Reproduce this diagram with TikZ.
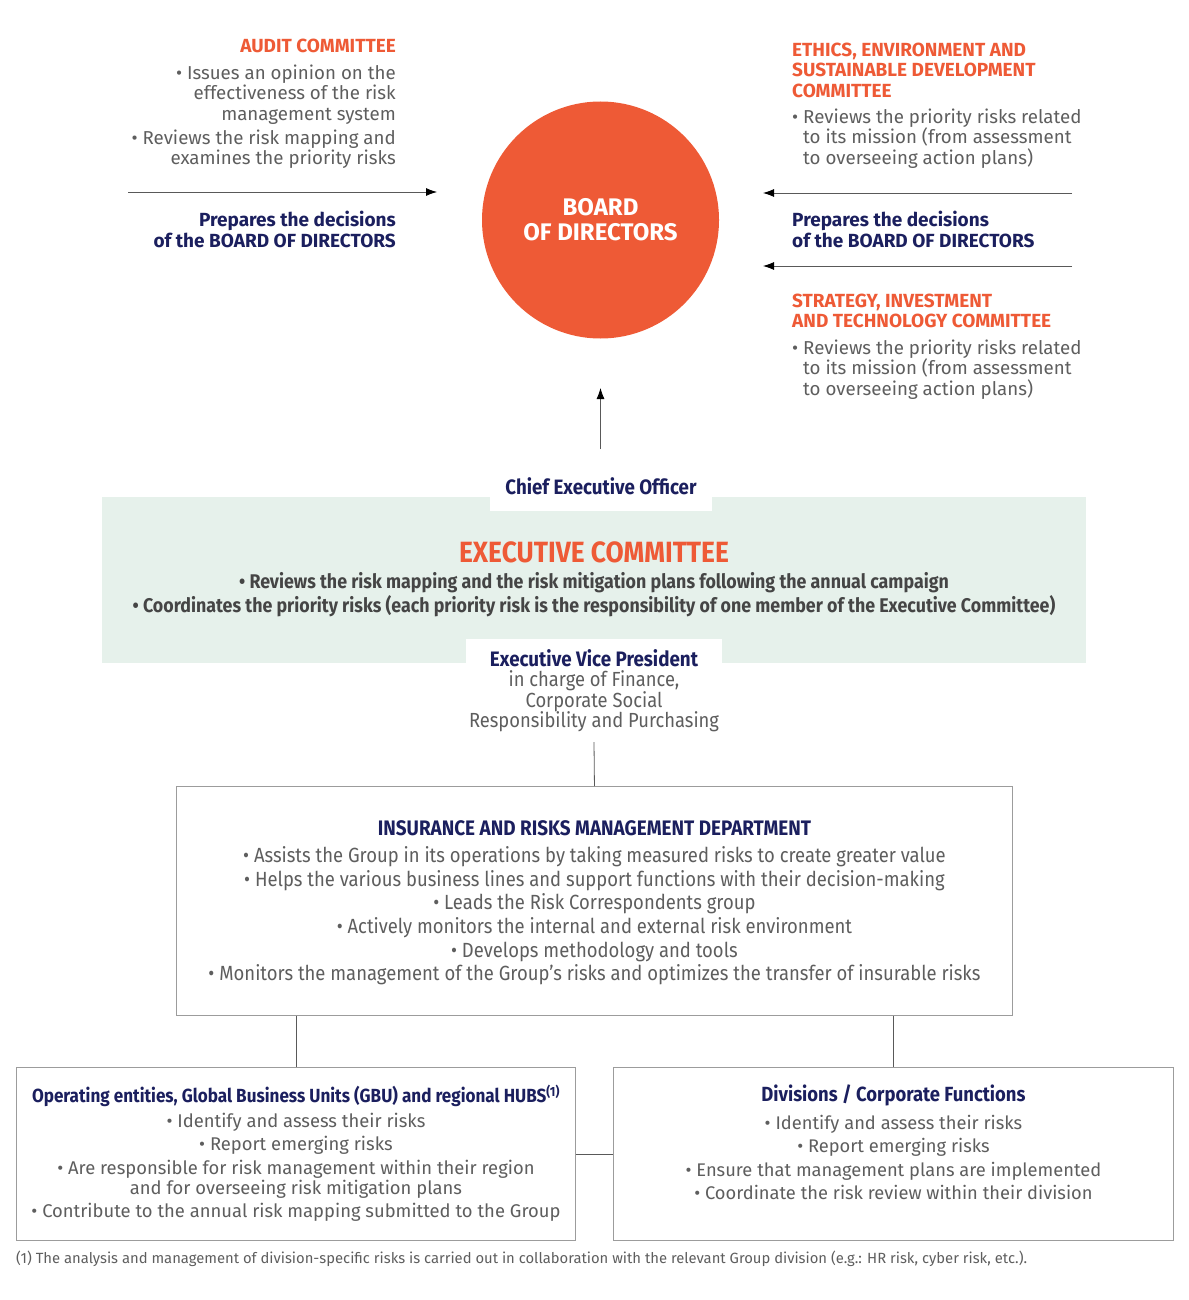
\documentclass[tikz,border=0pt]{standalone}
\usepackage{fontspec}
\setmainfont{Fira Sans}
\newfontfamily\condfont[FakeStretch=0.9]{Fira Sans}
\usetikzlibrary{arrows.meta,positioning}

\definecolor{boardorange}{HTML}{EE5A36}
\definecolor{navy}{HTML}{1B1F5E}
\definecolor{textgray}{HTML}{5E5E5E}
\definecolor{darkgray}{HTML}{454545}
\definecolor{execgreen}{HTML}{E6F1EB}
\definecolor{boxgray}{HTML}{9C9C9C}

\newcommand{\hangbul}{\hphantom{• }}

\tikzset{
  committee/.style={inner sep=0pt, text=boardorange, font=\fontsize{19}{20.5}\selectfont\bfseries},
  decision/.style={inner sep=0pt, text=navy, font=\fontsize{19}{21}\selectfont\bfseries},
  duties/.style={inner sep=0pt, text=textgray, font=\fontsize{18.7}{20.5}\selectfont},
  link/.style={draw=black!65, line width=0.8pt},
  arr/.style={link, -{Latex[length=11pt,width=8pt,black]}},
  frame/.style={draw=boxgray, line width=0.9pt, fill=white, inner sep=0pt}
}

\begin{document}
\begin{tikzpicture}[x=1pt,y=-1pt]
  \useasboundingbox (0,0) rectangle (1188,1300);
  % board of directors
  \node[circle, fill=boardorange, minimum size=237pt, inner sep=0pt, align=center, text=white,
        font=\fontsize{24}{25}\selectfont\bfseries] (board) at (600.5,220) {BOARD\\OF DIRECTORS};
  % audit committee (left)
  \node[committee, anchor=north east, align=right] (audit) at (396,39.3) {AUDIT COMMITTEE};
  \node[duties, anchor=north east, align=right] (auditjob) at (396,64.4)
    {• Issues an opinion on the\\effectiveness of the risk\\management system\\[3.5pt]• Reviews the risk mapping and\\examines the priority risks};
  \coordinate (auditfrom) at (128,192); \coordinate (auditto) at (437,192);
  \draw[arr] (auditfrom) -- (auditto);
  \node[decision, anchor=north east, align=right] (auditprep) at (396,211.2)
    {Prepares the decisions\\of the BOARD OF DIRECTORS};
  % ethics and strategy committees (right)
  \node[committee, anchor=north west, align=left] (ethics) at (792,42.4)
    {ETHICS, ENVIRONMENT AND\\SUSTAINABLE DEVELOPMENT\\COMMITTEE};
  \node[duties, anchor=north west, align=left] (ethicsjob) at (792,108.4)
    {• Reviews the priority risks related\\\hangbul to its mission (from assessment\\\hangbul to overseeing action plans)};
  \coordinate (ethicsfrom) at (1072,193); \coordinate (ethicsto) at (763,193);
  \coordinate (stratfrom) at (1072,266); \coordinate (stratto) at (763,266);
  \draw[arr] (ethicsfrom) -- (ethicsto);
  \draw[arr] (stratfrom) -- (stratto);
  \node[decision, anchor=north west, align=left] (rightprep) at (792,211.2)
    {Prepares the decisions\\of the BOARD OF DIRECTORS};
  \node[committee, anchor=north west, align=left] (strategy) at (792,293.4)
    {STRATEGY, INVESTMENT\\AND TECHNOLOGY COMMITTEE};
  \node[duties, anchor=north west, align=left] (strategyjob) at (792,339.4)
    {• Reviews the priority risks related\\\hangbul to its mission (from assessment\\\hangbul to overseeing action plans)};
  % executive committee
  \node[fill=execgreen, minimum width=984pt, minimum height=166pt, inner sep=0pt, anchor=north west] (exco) at (102,497) {};
  \node[fill=white, minimum width=222pt, minimum height=50pt, inner sep=0pt, text=navy,
        font=\condfont\fontsize{20.8}{22}\selectfont\bfseries] (ceo) at (601,486) {Chief Executive Officer};
  \coordinate (ceoup) at (600.5,449); \coordinate (boardin) at (600.5,388);
  \draw[arr] (ceoup) -- (boardin);
  \node[inner sep=0pt, text=boardorange, font=\condfont\fontsize{29.3}{31}\selectfont\bfseries] (excotitle) at (594,552) {EXECUTIVE COMMITTEE};
  \node[inner sep=0pt, anchor=north, align=center, text=darkgray, font=\condfont\fontsize{19.8}{24}\selectfont\bfseries]
    (excojob) at (594,572.2) {• Reviews the risk mapping and the risk mitigation plans following the annual campaign\\• Coordinates the priority risks (each priority risk is the responsibility of one member of the Executive Committee)};
  \node[fill=white, minimum width=256pt, inner xsep=0pt, inner ysep=10pt, anchor=north, align=center, text=textgray,
        font=\condfont\fontsize{20.4}{20.5}\selectfont] (evp) at (594,639)
    {\textcolor{navy}{\fontsize{20.9}{20.5}\selectfont\bfseries Executive Vice President}\\in charge of Finance,\\Corporate Social\\Responsibility and Purchasing};
  % insurance and risks management department
  \node[frame, minimum width=836pt, minimum height=229pt, anchor=north west] (irm) at (176,786) {};
  \draw[link] (evp.south) -- (irm.north);
  \node[inner sep=0pt, below=34.6pt of irm.north, align=center, text=textgray, font=\condfont\fontsize{20.5}{23.6}\selectfont] (irmjob)
    {\textcolor{navy}{\fontsize{21}{23.6}\selectfont\bfseries INSURANCE AND RISKS MANAGEMENT DEPARTMENT}\\[3.4pt]
     • Assists the Group in its operations by taking measured risks to create greater value\\
     • Helps the various business lines and support functions with their decision-making\\
     • Leads the Risk Correspondents group\\
     • Actively monitors the internal and external risk environment\\
     • Develops methodology and tools\\
     • Monitors the management of the Group’s risks and optimizes the transfer of insurable risks};
  % operating entities and divisions
  \node[frame, minimum width=559pt, minimum height=173pt, anchor=north west] (ops) at (16,1067) {};
  \node[frame, minimum width=560pt, minimum height=173pt, anchor=north west] (divs) at (613,1067) {};
  \draw[link] (irm.south -| ops.north) -- (ops.north);
  \draw[link] (irm.south -| divs.north) -- (divs.north);
  \draw[link] (ops.east) -- (divs.west);
  \node[inner sep=0pt, below=17.6pt of ops.north, align=center, text=textgray, font=\fontsize{18.4}{23.5}\selectfont] (opsjob)
    {\textcolor{navy}{\condfont\fontsize{19}{23.5}\selectfont\bfseries Operating entities, Global Business Units (GBU) and regional HUBS\textsuperscript{(1)}}\\[1pt]
     • Identify and assess their risks\\
     • Report emerging risks\\
     • Are responsible for risk management within their region\\[-3.5pt]
     and for overseeing risk mitigation plans\\
     • Contribute to the annual risk mapping submitted to the Group};
  \node[inner sep=0pt, below=17.6pt of divs.north, align=center, text=textgray, font=\fontsize{18.3}{23.5}\selectfont] (divsjob)
    {\textcolor{navy}{\condfont\fontsize{20.5}{23.5}\selectfont\bfseries Divisions / Corporate Functions}\\[4pt]
     • Identify and assess their risks\\
     • Report emerging risks\\
     • Ensure that management plans are implemented\\
     • Coordinate the risk review within their division};
  % footnote
  \node[inner sep=0pt, anchor=base west, text=textgray, font=\fontsize{14.8}{17}\selectfont] (note) at (16,1263)
    {(1) The analysis and management of division-specific risks is carried out in collaboration with the relevant Group division (e.g.: HR risk, cyber risk, etc.).};
\end{tikzpicture}
\end{document}
